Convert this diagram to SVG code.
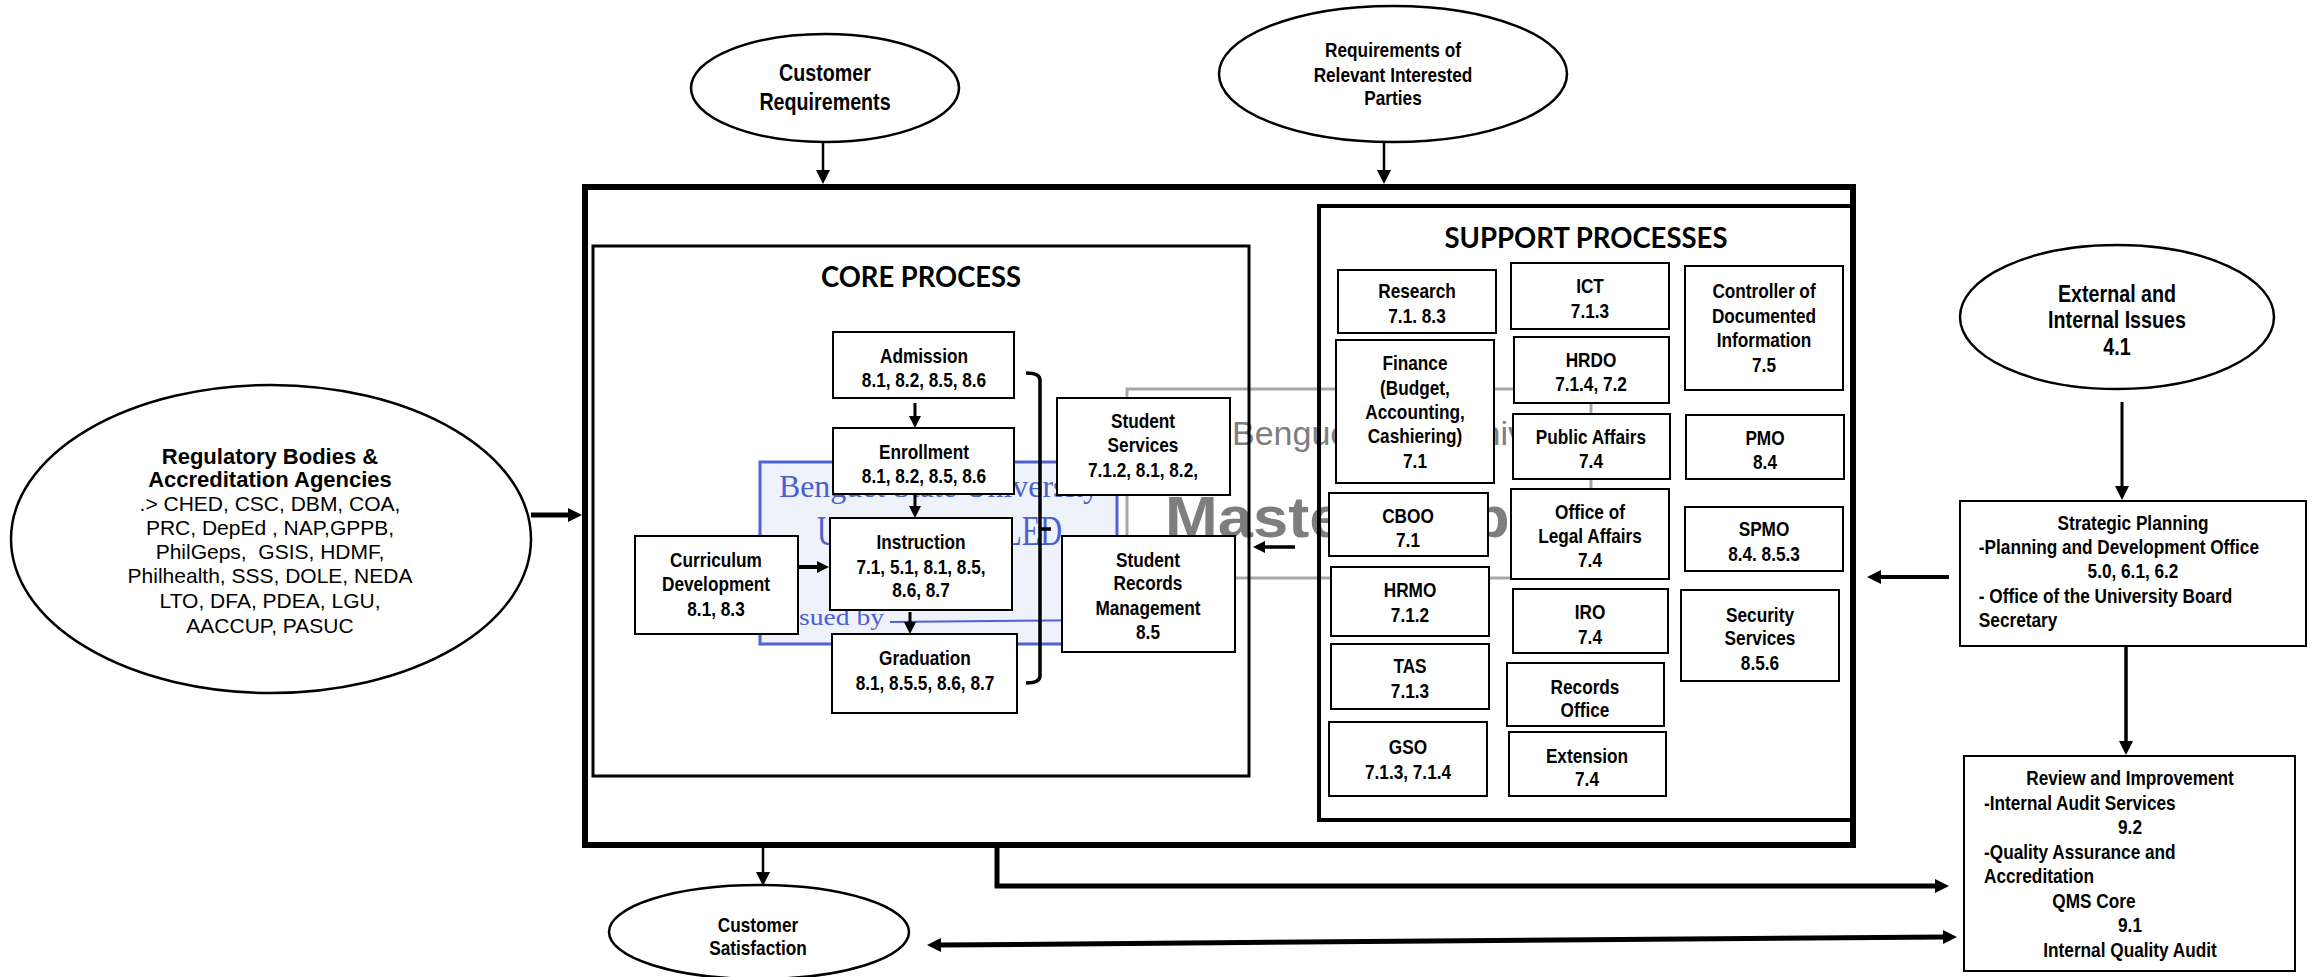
<svg xmlns="http://www.w3.org/2000/svg" width="2316" height="977" viewBox="0 0 2316 977">
<defs>
<style>
.t{font-family:'Liberation Sans',Arial,sans-serif;font-weight:bold;font-size:21px;text-anchor:middle;fill:#000}
.l{text-anchor:start}
.big{font-size:24px}
.rg{font-family:'Liberation Sans',Arial,sans-serif;font-size:21px;text-anchor:middle;fill:#000}
.rgb{font-weight:bold;font-size:22px}
.title{font-family:Lato,'Liberation Sans',sans-serif;font-weight:bold;font-size:29px;text-anchor:middle}
.box{fill:#fff;stroke:#000;stroke-width:2}
.ell{fill:#fff;stroke:#000;stroke-width:2.5}
.cn{fill:none;stroke:#000}
.stampb{fill:#4a5fd0;font-family:'Liberation Serif',serif}
.stampg{fill:#7e7e7e;font-family:'Liberation Sans',sans-serif}
</style>
<marker id="ah" markerUnits="userSpaceOnUse" viewBox="0 0 14 14" markerWidth="14" markerHeight="14" refX="1" refY="7" orient="auto-start-reverse"><path d="M0,0L14,7L0,14z" fill="#000"/></marker>
<marker id="as" markerUnits="userSpaceOnUse" viewBox="0 0 12 12" markerWidth="12" markerHeight="12" refX="1" refY="6" orient="auto"><path d="M0,0L12,6L0,12z" fill="#000"/></marker>
</defs>

<rect width="2316" height="977" fill="#fff"/>

<!-- scanned stamps behind the process boxes -->
<g id="stamps">
  <rect x="1127" y="389" width="464" height="189" fill="none" stroke="#a8a8a8" stroke-width="3"/>
  <text class="stampg" x="1232" y="445" font-size="34" font-family="'Liberation Serif',serif">Benguet State University</text>
  <text class="stampg" x="1165" y="537" font-size="58" font-weight="bold" textLength="380" lengthAdjust="spacingAndGlyphs">Master Copy</text>
  <rect x="760" y="462" width="357" height="182" fill="#eff1fb" stroke="#4f63d2" stroke-width="3"/>
  <text class="stampb" x="779" y="497" font-size="32" textLength="320" lengthAdjust="spacingAndGlyphs">Benguet State University</text>
  <text class="stampb" x="817" y="545" font-size="42" font-family="'Liberation Sans',sans-serif" textLength="245" lengthAdjust="spacingAndGlyphs">UNCONTROLLED</text>
  <text class="stampb" x="799" y="625" font-size="24" font-family="'Liberation Sans',sans-serif" textLength="85" lengthAdjust="spacingAndGlyphs">sued by</text>
  <line x1="890" y1="622" x2="1110" y2="620" stroke="#4f63d2" stroke-width="2"/>
</g>

<!-- containers -->
<g id="containers" class="cn">
  <rect x="585" y="187" width="1268" height="658" stroke-width="6"/>
  <rect x="593" y="246" width="656" height="530" stroke-width="3"/>
  <rect x="1319" y="206" width="534" height="614" stroke-width="4"/>
</g>
<text class="title" x="921" y="287" textLength="200" lengthAdjust="spacingAndGlyphs">CORE PROCESS</text>
<text class="title" x="1586" y="248" textLength="283" lengthAdjust="spacingAndGlyphs">SUPPORT PROCESSES</text>

<!-- inputs and outputs -->
<g id="customer-requirements">
  <ellipse class="ell" cx="825" cy="88" rx="134" ry="54"/>
  <g transform="matrix(.82 0 0 1 825 0)"><text class="t big" y="81">Customer</text><text class="t big" y="110">Requirements</text></g>
</g>
<g id="interested-parties">
  <ellipse class="ell" cx="1393" cy="74" rx="174" ry="68"/>
  <g transform="matrix(.82 0 0 1 1393 0)"><text class="t" y="57">Requirements of</text><text class="t" y="82">Relevant Interested</text><text class="t" y="105">Parties</text></g>
</g>
<g id="issues">
  <ellipse class="ell" cx="2117" cy="317" rx="157" ry="72"/>
  <g transform="matrix(.82 0 0 1 2117 0)"><text class="t big" y="302">External and</text><text class="t big" y="328">Internal Issues</text><text class="t big" y="355">4.1</text></g>
</g>
<g id="regulatory">
  <ellipse class="ell" cx="271" cy="539" rx="260" ry="154"/>
  <text class="rg rgb" x="270" y="464">Regulatory Bodies &amp;</text>
  <text class="rg rgb" x="270" y="487">Accreditation Agencies</text>
  <text class="rg" x="270" y="511">.&gt; CHED, CSC, DBM, COA,</text>
  <text class="rg" x="270" y="535">PRC, DepEd , NAP,GPPB,</text>
  <text class="rg" x="270" y="559" xml:space="preserve">PhilGeps,  GSIS, HDMF,</text>
  <text class="rg" x="270" y="583">Philhealth, SSS, DOLE, NEDA</text>
  <text class="rg" x="270" y="608">LTO, DFA, PDEA, LGU,</text>
  <text class="rg" x="270" y="633">AACCUP, PASUC</text>
</g>
<g id="customer-satisfaction">
  <ellipse class="ell" cx="759" cy="932" rx="150" ry="47"/>
  <g transform="matrix(.82 0 0 1 758 0)"><text class="t" y="932">Customer</text><text class="t" y="955">Satisfaction</text></g>
</g>
<g id="strategic-planning">
  <rect class="box" x="1960" y="501" width="346" height="145"/>
  <g transform="matrix(.82 0 0 1 2133 0)">
    <text class="t" y="530">Strategic Planning</text>
    <text class="t l" x="-188" y="554">-Planning and Development Office</text>
    <text class="t" y="578">5.0, 6.1, 6.2</text>
    <text class="t l" x="-188" y="603">- Office of the University Board</text>
    <text class="t l" x="-188" y="627">Secretary</text>
  </g>
</g>
<g id="review">
  <rect class="box" x="1964" y="756" width="331" height="215"/>
  <g transform="matrix(.82 0 0 1 2130 0)">
    <text class="t" y="785">Review and Improvement</text>
    <text class="t l" x="-178" y="810">-Internal Audit Services</text>
    <text class="t" y="834">9.2</text>
    <text class="t l" x="-178" y="859">-Quality Assurance and</text>
    <text class="t l" x="-178" y="883">Accreditation</text>
    <text class="t" x="-44" y="908">QMS Core</text>
    <text class="t" y="932">9.1</text>
    <text class="t" y="957">Internal Quality Audit</text>
  </g>
</g>

<!-- core process -->
<g id="admission">
  <rect class="box" x="833" y="332" width="181" height="66"/>
  <g transform="matrix(.82 0 0 1 924 0)"><text class="t" y="363">Admission</text><text class="t" y="387">8.1, 8.2, 8.5, 8.6</text></g>
</g>
<g id="enrollment">
  <rect class="box" x="833" y="428" width="181" height="66"/>
  <g transform="matrix(.82 0 0 1 924 0)"><text class="t" y="459">Enrollment</text><text class="t" y="483">8.1, 8.2, 8.5, 8.6</text></g>
</g>
<g id="instruction">
  <rect class="box" x="830" y="518" width="182" height="92"/>
  <g transform="matrix(.82 0 0 1 921 0)"><text class="t" y="549">Instruction</text><text class="t" y="574">7.1, 5.1, 8.1, 8.5,</text><text class="t" y="597">8.6, 8.7</text></g>
</g>
<g id="curriculum">
  <rect class="box" x="635" y="536" width="163" height="98"/>
  <g transform="matrix(.82 0 0 1 716 0)"><text class="t" y="567">Curriculum</text><text class="t" y="591">Development</text><text class="t" y="616">8.1, 8.3</text></g>
</g>
<g id="graduation">
  <rect class="box" x="832" y="634" width="185" height="79"/>
  <g transform="matrix(.82 0 0 1 925 0)"><text class="t" y="665">Graduation</text><text class="t" y="690">8.1, 8.5.5, 8.6, 8.7</text></g>
</g>
<g id="student-services">
  <rect class="box" x="1057" y="398" width="173" height="97"/>
  <g transform="matrix(.82 0 0 1 1143 0)"><text class="t" y="428">Student</text><text class="t" y="452">Services</text><text class="t" y="477">7.1.2, 8.1, 8.2,</text></g>
</g>
<g id="student-records">
  <rect class="box" x="1062" y="536" width="173" height="116"/>
  <g transform="matrix(.82 0 0 1 1148 0)"><text class="t" y="567">Student</text><text class="t" y="590">Records</text><text class="t" y="615">Management</text><text class="t" y="639">8.5</text></g>
</g>

<!-- support processes -->
<g id="research"><rect class="box" x="1338" y="270" width="158" height="63"/><g transform="matrix(.82 0 0 1 1417 0)"><text class="t" y="298">Research</text><text class="t" y="323">7.1. 8.3</text></g></g>
<g id="ict"><rect class="box" x="1511" y="263" width="158" height="66"/><g transform="matrix(.82 0 0 1 1590 0)"><text class="t" y="293">ICT</text><text class="t" y="318">7.1.3</text></g></g>
<g id="controller"><rect class="box" x="1685" y="266" width="158" height="124"/><g transform="matrix(.82 0 0 1 1764 0)"><text class="t" y="298">Controller of</text><text class="t" y="323">Documented</text><text class="t" y="347">Information</text><text class="t" y="372">7.5</text></g></g>
<g id="finance"><rect class="box" x="1336" y="340" width="158" height="143"/><g transform="matrix(.82 0 0 1 1415 0)"><text class="t" y="370">Finance</text><text class="t" y="395">(Budget,</text><text class="t" y="419">Accounting,</text><text class="t" y="443">Cashiering)</text><text class="t" y="468">7.1</text></g></g>
<g id="hrdo"><rect class="box" x="1514" y="337" width="155" height="66"/><g transform="matrix(.82 0 0 1 1591 0)"><text class="t" y="367">HRDO</text><text class="t" y="391">7.1.4, 7.2</text></g></g>
<g id="public-affairs"><rect class="box" x="1513" y="414" width="157" height="65"/><g transform="matrix(.82 0 0 1 1591 0)"><text class="t" y="444">Public Affairs</text><text class="t" y="468">7.4</text></g></g>
<g id="pmo"><rect class="box" x="1686" y="415" width="158" height="64"/><g transform="matrix(.82 0 0 1 1765 0)"><text class="t" y="445">PMO</text><text class="t" y="469">8.4</text></g></g>
<g id="cboo"><rect class="box" x="1329" y="493" width="159" height="63"/><g transform="matrix(.82 0 0 1 1408 0)"><text class="t" y="523">CBOO</text><text class="t" y="547">7.1</text></g></g>
<g id="legal"><rect class="box" x="1511" y="489" width="158" height="90"/><g transform="matrix(.82 0 0 1 1590 0)"><text class="t" y="519">Office of</text><text class="t" y="543">Legal Affairs</text><text class="t" y="567">7.4</text></g></g>
<g id="spmo"><rect class="box" x="1685" y="507" width="158" height="64"/><g transform="matrix(.82 0 0 1 1764 0)"><text class="t" y="536">SPMO</text><text class="t" y="561">8.4. 8.5.3</text></g></g>
<g id="hrmo"><rect class="box" x="1331" y="567" width="158" height="69"/><g transform="matrix(.82 0 0 1 1410 0)"><text class="t" y="597">HRMO</text><text class="t" y="622">7.1.2</text></g></g>
<g id="iro"><rect class="box" x="1513" y="589" width="155" height="64"/><g transform="matrix(.82 0 0 1 1590 0)"><text class="t" y="619">IRO</text><text class="t" y="644">7.4</text></g></g>
<g id="security"><rect class="box" x="1681" y="590" width="158" height="91"/><g transform="matrix(.82 0 0 1 1760 0)"><text class="t" y="622">Security</text><text class="t" y="645">Services</text><text class="t" y="670">8.5.6</text></g></g>
<g id="tas"><rect class="box" x="1331" y="644" width="158" height="65"/><g transform="matrix(.82 0 0 1 1410 0)"><text class="t" y="673">TAS</text><text class="t" y="698">7.1.3</text></g></g>
<g id="records-office"><rect class="box" x="1507" y="663" width="157" height="63"/><g transform="matrix(.82 0 0 1 1585 0)"><text class="t" y="694">Records</text><text class="t" y="717">Office</text></g></g>
<g id="gso"><rect class="box" x="1329" y="722" width="158" height="74"/><g transform="matrix(.82 0 0 1 1408 0)"><text class="t" y="754">GSO</text><text class="t" y="779">7.1.3, 7.1.4</text></g></g>
<g id="extension"><rect class="box" x="1509" y="732" width="157" height="64"/><g transform="matrix(.82 0 0 1 1587 0)"><text class="t" y="763">Extension</text><text class="t" y="786">7.4</text></g></g>

<!-- connectors -->
<g id="connectors" class="cn">
  <line x1="823" y1="142" x2="823" y2="171" stroke-width="2.5" marker-end="url(#ah)"/>
  <line x1="1384" y1="142" x2="1384" y2="171" stroke-width="2.5" marker-end="url(#ah)"/>
  <line x1="531" y1="515" x2="569" y2="515" stroke-width="5" marker-end="url(#ah)"/>
  <line x1="2122" y1="402" x2="2122" y2="487" stroke-width="3" marker-end="url(#ah)"/>
  <line x1="2126" y1="647" x2="2126" y2="742" stroke-width="3.5" marker-end="url(#ah)"/>
  <line x1="1949" y1="577" x2="1880" y2="577" stroke-width="4" marker-end="url(#ah)"/>
  <line x1="763" y1="848" x2="763" y2="873" stroke-width="2.5" marker-end="url(#ah)"/>
  <polyline points="997,848 997,886 1936,886" stroke-width="5" marker-end="url(#ah)"/>
  <line x1="940" y1="945" x2="1944" y2="937" stroke-width="5" marker-start="url(#ah)" marker-end="url(#ah)"/>
  <line x1="1295" y1="547" x2="1264" y2="547" stroke-width="3.5" marker-end="url(#as)"/>
  <line x1="915" y1="403" x2="915" y2="417" stroke-width="3" marker-end="url(#as)"/>
  <line x1="915" y1="494" x2="915" y2="507" stroke-width="3" marker-end="url(#as)"/>
  <line x1="910" y1="612" x2="910" y2="623" stroke-width="3" marker-end="url(#as)"/>
  <line x1="798" y1="567" x2="818" y2="567" stroke-width="4" marker-end="url(#as)"/>
  <path d="M1026,373 Q1040,373 1040,380 L1040,676 Q1040,683 1026,683 M1040,529 L1051,529" stroke-width="3.5"/>
</g>
</svg>
